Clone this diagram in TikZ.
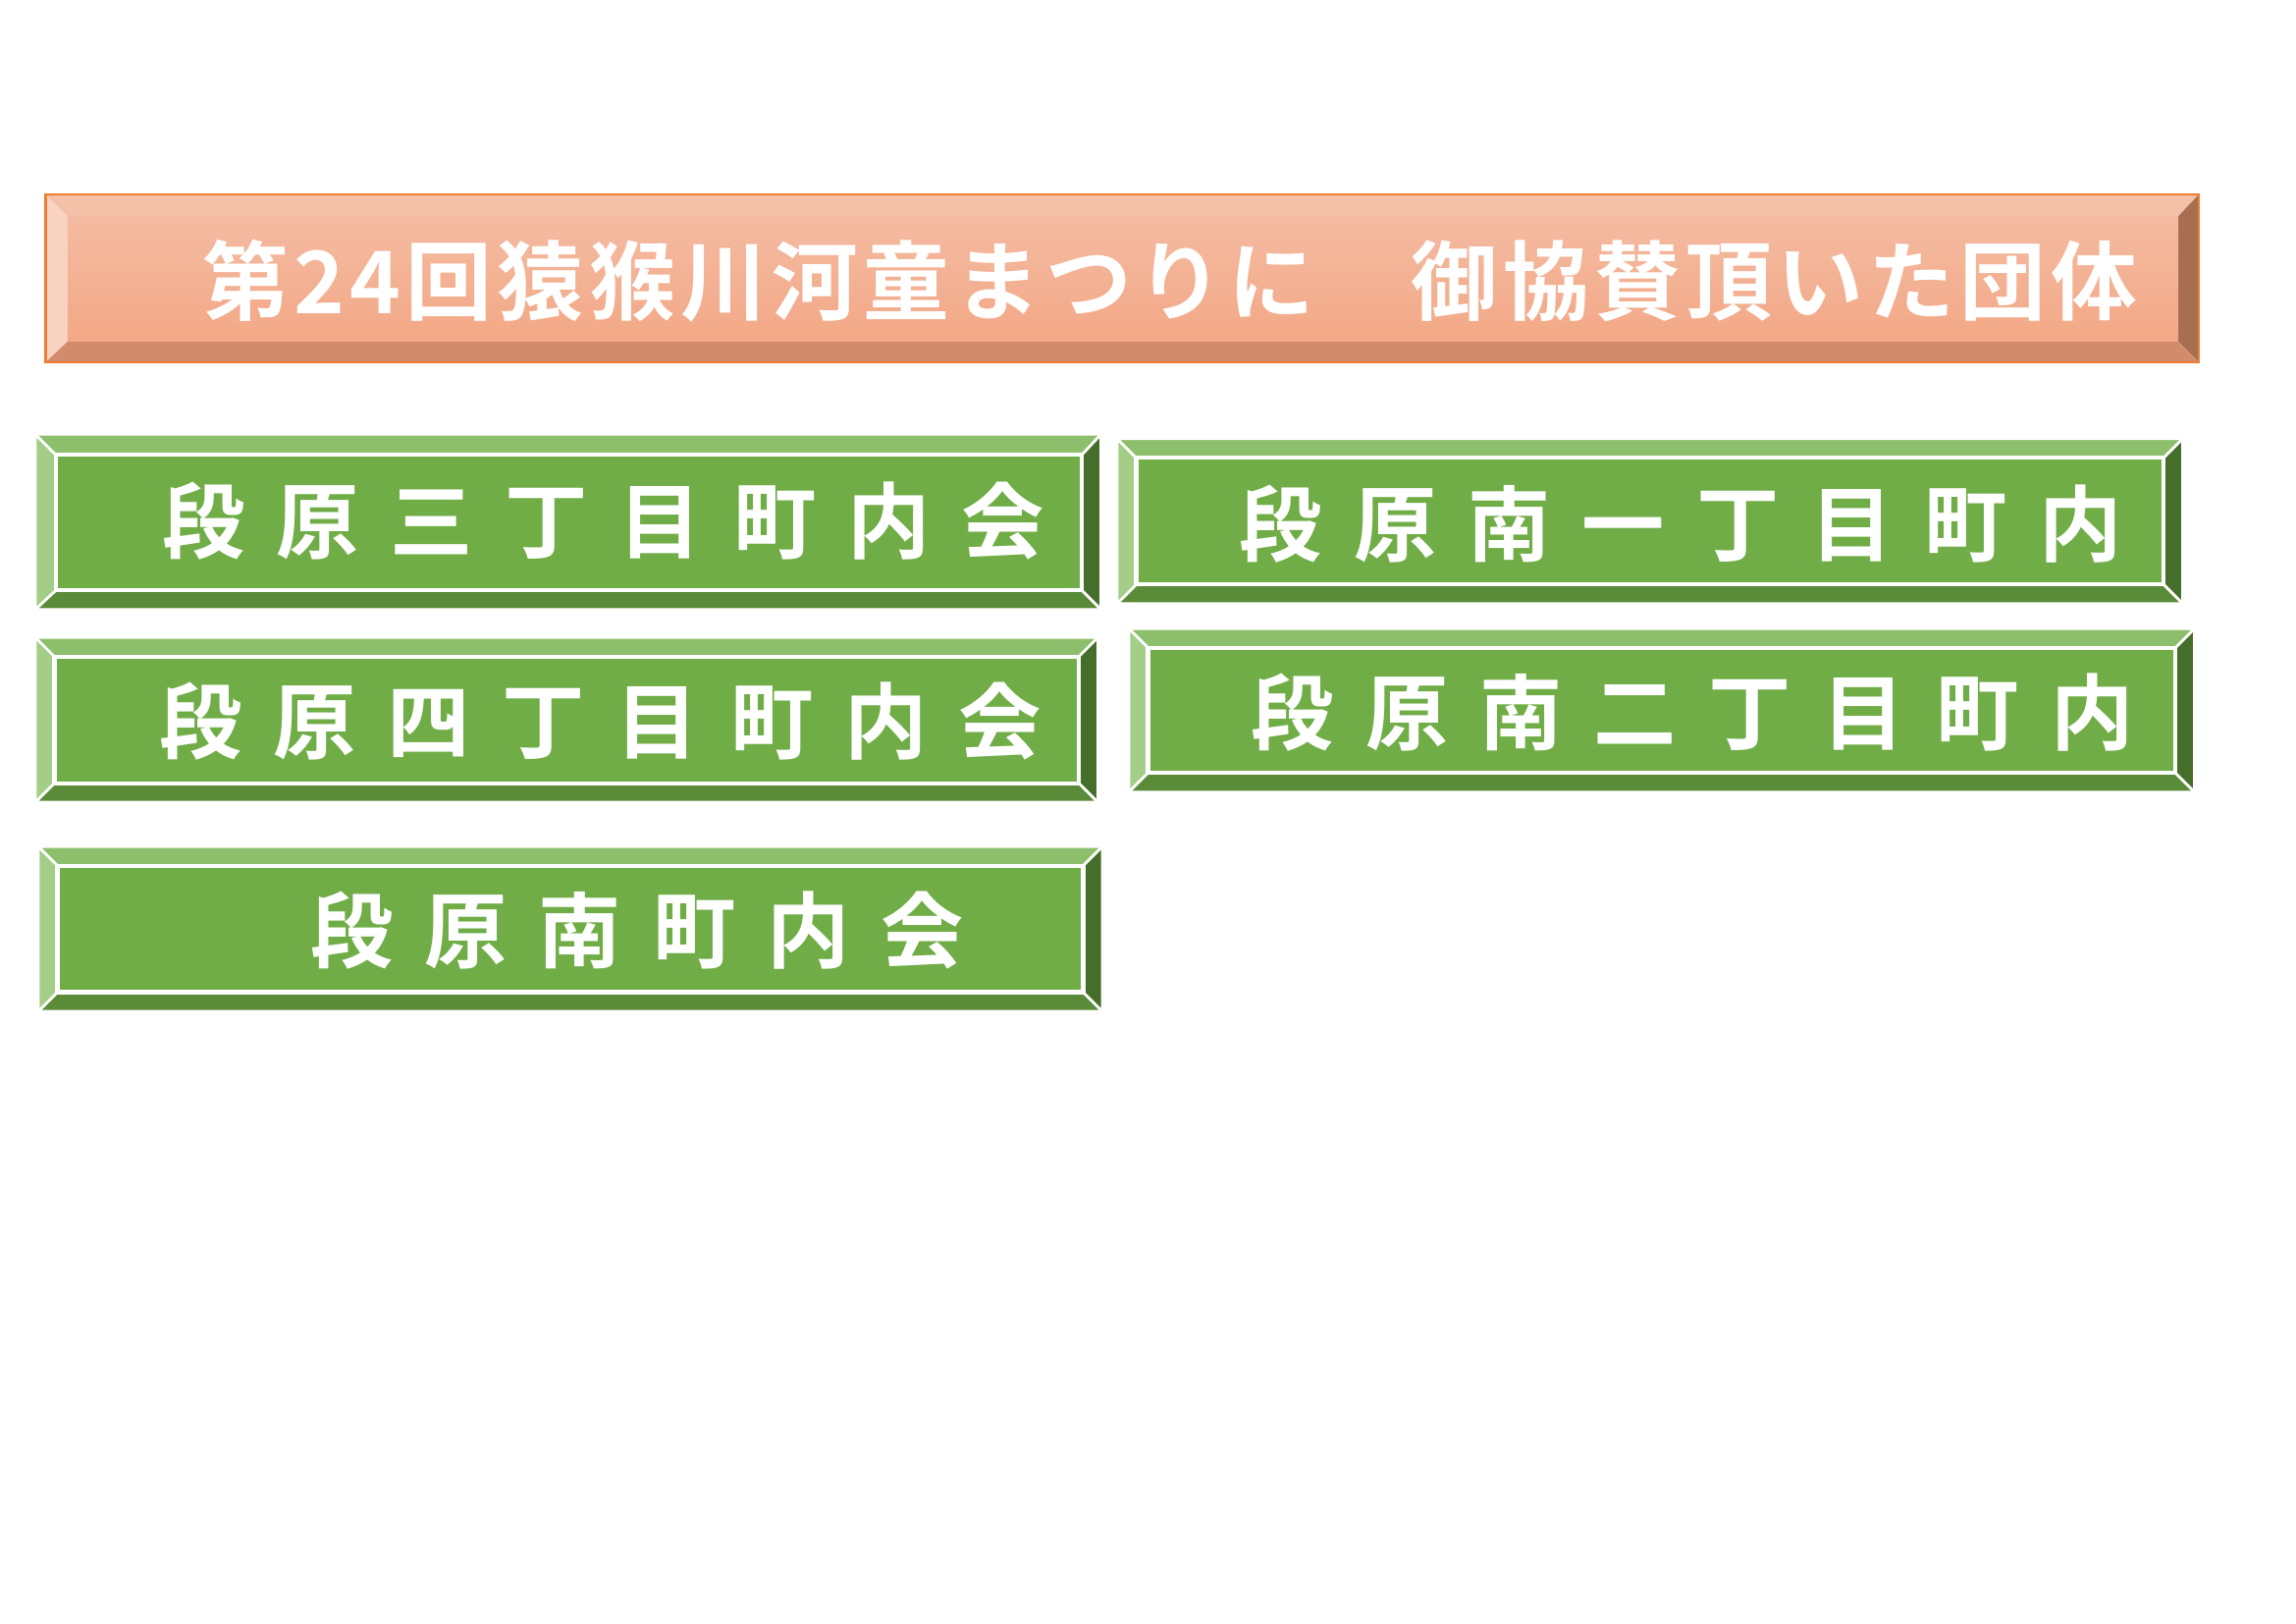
\documentclass[tikz,border=0pt]{standalone}
\usepackage{fontspec}
\newfontfamily\jpfont{Noto Sans CJK JP}[BoldFont={* Bold}]
\definecolor{gbase}{HTML}{70AD47}
\definecolor{gtop}{HTML}{8DBE6C}
\definecolor{gleft}{HTML}{A4CD88}
\definecolor{gright}{HTML}{466E2B}
\definecolor{gbot}{HTML}{5A8B38}
\definecolor{otop}{HTML}{F5C0A8}
\definecolor{oleft}{HTML}{F9D3C2}
\definecolor{oright}{HTML}{A86E52}
\definecolor{obot}{HTML}{D38C6B}
\definecolor{oface}{HTML}{F3A886}
\definecolor{ofacetop}{HTML}{F4BBA2}
\definecolor{oline}{HTML}{ED7D31}
% bevel box: outer x1,y1,x2,y2, inner x1,y1,x2,y2, colours top,left,right,bottom
\newcommand{\bevelbox}[8]{%
  \fill[#5] (#1) -- (#2) -- (#4) -- (#3) -- cycle;
  \fill[#6] (#1) -- (#3) |- (#3|-#4) -- (#1|-#2) -- cycle;
  \fill[#7] (#2) -- (#4) |- (#4|-#3) -- (#2|-#1) -- cycle;
  \fill[#8] (#1|-#2) -- (#3|-#4) -- (#4) -- (#2) -- cycle;
}
\tikzset{
  gtext/.style={text=white, font=\jpfont\bfseries\fontsize{24}{24}\selectfont\addfontfeatures{LetterSpace=38}},
  ttext/.style={text=white, font=\jpfont\bfseries\fontsize{25}{25}\selectfont\addfontfeatures{LetterSpace=6}},
}
\newcommand{\greenbox}[8]{%
  \fill[gtop] (#1,#2) -- (#3,#2) -- (#7,#6) -- (#5,#6) -- cycle;
  \fill[gleft] (#1,#2) -- (#5,#6) -- (#5,#8) -- (#1,#4) -- cycle;
  \fill[gright] (#3,#2) -- (#7,#6) -- (#7,#8) -- (#3,#4) -- cycle;
  \fill[gbot] (#1,#4) -- (#5,#8) -- (#7,#8) -- (#3,#4) -- cycle;
  \fill[gbase] (#5,#6) rectangle (#7,#8);
  \draw[white, line width=1.2pt] (#5,#6) rectangle (#7,#8);
  \draw[white, line width=0.8pt] (#1,#2) -- (#5,#6) (#3,#2) -- (#7,#6)
    (#1,#4) -- (#5,#8) (#3,#4) -- (#7,#8) (#1,#2) rectangle (#3,#4);
}
\begin{document}
\begin{tikzpicture}[x=0.015cm, y=-0.015cm]
\useasboundingbox[fill=white] (0,0) rectangle (1560,1103);
% title
\fill[otop] (31,132) -- (1494,132) -- (1480,147) -- (46,147) -- cycle;
\fill[oleft] (31,132) -- (46,147) -- (46,232) -- (31,246) -- cycle;
\fill[oright] (1494,132) -- (1480,147) -- (1480,232) -- (1494,246) -- cycle;
\fill[obot] (31,246) -- (46,232) -- (1480,232) -- (1494,246) -- cycle;
\shade[top color=ofacetop, bottom color=oface] (46,147) rectangle (1480,232);
\draw[oline, line width=0.6pt] (31,132) rectangle (1494,246);
\node[ttext] (title) at (795,191) {第24回猿猴川河童まつりに　御協賛頂いた団体};
% green boxes
\greenbox{24}{295}{748}{414}{38}{309}{735}{401}
\node[gtext] (sanchome) at (410,354) {段原三丁目町内会};
\greenbox{759}{298}{1483}{410}{772}{311}{1470}{397}
\node[gtext] (minami1) at (1142,356) {段原南一丁目町内};
\greenbox{24}{433}{746}{545}{37}{446}{733}{532}
\node[gtext] (yonchome) at (408,490) {段原四丁目町内会};
\greenbox{767}{427}{1491}{538}{780}{440}{1478}{525}
\node[gtext] (minami2) at (1150,484) {段原南二丁目町内};
\greenbox{26}{575}{749}{687}{39}{588}{736}{674}
\node[gtext] (minami) at (433,632) {段原南町内会};
\end{tikzpicture}
\end{document}
